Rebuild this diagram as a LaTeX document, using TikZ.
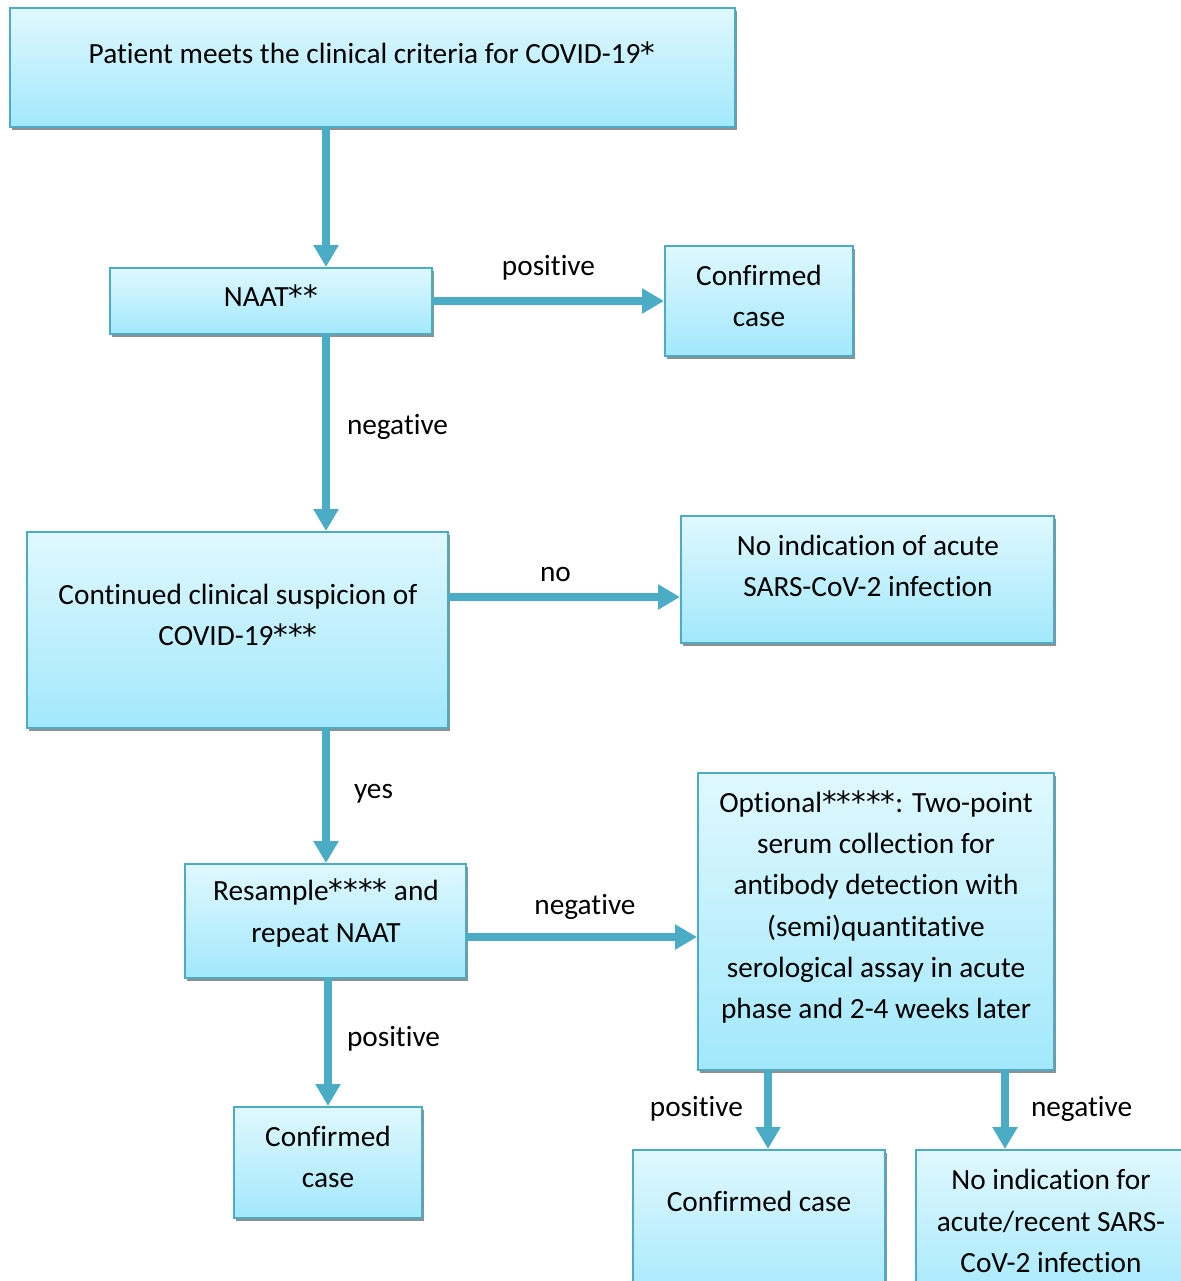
\documentclass[tikz,border=0pt]{standalone}
\usepackage{fontspec}
\setmainfont{Carlito}[RawFeature={-liga;-dlig;-calt}]
\newfontfamily\astfont{DejaVu Sans}
\newcommand\stars[1]{{\astfont\fontsize{14.65pt}{20.6pt}\selectfont #1}}
\usetikzlibrary{arrows.meta,fit,shadows}
\definecolor{edgeblue}{RGB}{75,172,198}
\definecolor{boxtop}{RGB}{224,248,254}
\definecolor{boxbot}{RGB}{162,232,252}
\tikzset{
  boxnode/.style={draw=edgeblue, line width=1pt, inner sep=0pt, top color=boxtop, bottom color=boxbot,
    drop shadow={shadow xshift=1pt, shadow yshift=-1.6pt, fill=black!55, opacity=0.8}},
  txt/.style={font=\fontsize{14.65pt}{20.6pt}\selectfont, align=center, inner sep=0pt},
  flow/.style={draw=edgeblue, line width=4pt, -{Triangle[width=12pt,length=11pt]}}
}
\begin{document}
\begin{tikzpicture}[x=0.5pt,y=-0.5pt]
\useasboundingbox (0,0) rectangle (1181,1281);
\clip (0,0) rectangle (1181,1281);
% boxes
\node[boxnode, fit={(10,8) (735,127)}] (top) {};
\node[boxnode, fit={(110,268) (432,334)}] (naat) {};
\node[boxnode, fit={(665,246) (853,356)}] (conf1) {};
\node[boxnode, fit={(27,532) (448,728)}] (cont) {};
\node[boxnode, fit={(681,516) (1054,643)}] (noind) {};
\node[boxnode, fit={(185,864) (466,978)}] (res) {};
\node[boxnode, fit={(698,773) (1054,1070)}] (opt) {};
\node[boxnode, fit={(234,1107) (422,1218)}] (conf2) {};
\node[boxnode, fit={(633,1150) (885,1310)}] (conf3) {};
\node[boxnode, fit={(916,1150) (1186,1310)}] (noind2) {};
% texts
\node[txt] (t1) at (372,53) {Patient meets the clinical criteria for COVID-19\stars{*}};
\node[txt] (t2) at (271,296) {NAAT\stars{**}};
\node[txt] (t3) at (759,296) {Confirmed\\case};
\node[txt] (t4) at (238,615) {Continued clinical suspicion of\\COVID-19\stars{***}};
\node[txt] (t5) at (868,566) {No indication of acute\\SARS-CoV-2 infection};
\node[txt] (t6) at (326,913) {Resample\stars{****} and\\repeat NAAT};
\node[txt] (t7) at (876,907) {Optional\stars{*****}: Two-point\\serum collection for\\antibody detection with\\(semi)quantitative\\serological assay in acute\\phase and 2-4 weeks later};
\node[txt] (t8) at (328,1157) {Confirmed\\case};
\node[txt] (t9) at (759,1201) {Confirmed case};
\node[txt] (t10) at (1051,1221) {No indication for\\acute/recent SARS-\\CoV-2 infection};
% helper coordinates
\coordinate (xa) at (326,0);
\coordinate (ya) at (0,597);
\coordinate (yb) at (0,937);
\coordinate (xc) at (768,0);
\coordinate (xd) at (1005,0);
% connectors
\draw[flow] (top.south -| xa) -- (naat.north -| xa);
\draw[flow] (naat.east) -- node[txt, above=8.5pt] (l1) {positive} (conf1.west);
\draw[flow] (naat.south -| xa) -- node[txt, right=8.5pt, pos=0.47] (l2) {negative} (cont.north -| xa);
\draw[flow] (cont.east |- ya) -- node[txt, above=5.5pt, xshift=-4.5pt] (l3) {no} (noind.west |- ya);
\draw[flow] (cont.south -| xa) -- node[txt, right=12pt, pos=0.48] (l4) {yes} (res.north -| xa);
\draw[flow] (res.east |- yb) -- node[txt, above=6.5pt, xshift=1.5pt] (l5) {negative} (opt.west |- yb);
\draw[flow] (res.south -| conf2.north) -- node[txt, right=7.5pt, pos=0.47] (l6) {positive} (conf2.north);
\draw[flow] (opt.south -| xc) -- node[txt, left=10.5pt, pos=0.48] (l7) {positive} (conf3.north -| xc);
\draw[flow] (opt.south -| xd) -- node[txt, right=11pt, pos=0.48] (l8) {negative} (noind2.north -| xd);
\end{tikzpicture}
\end{document}
